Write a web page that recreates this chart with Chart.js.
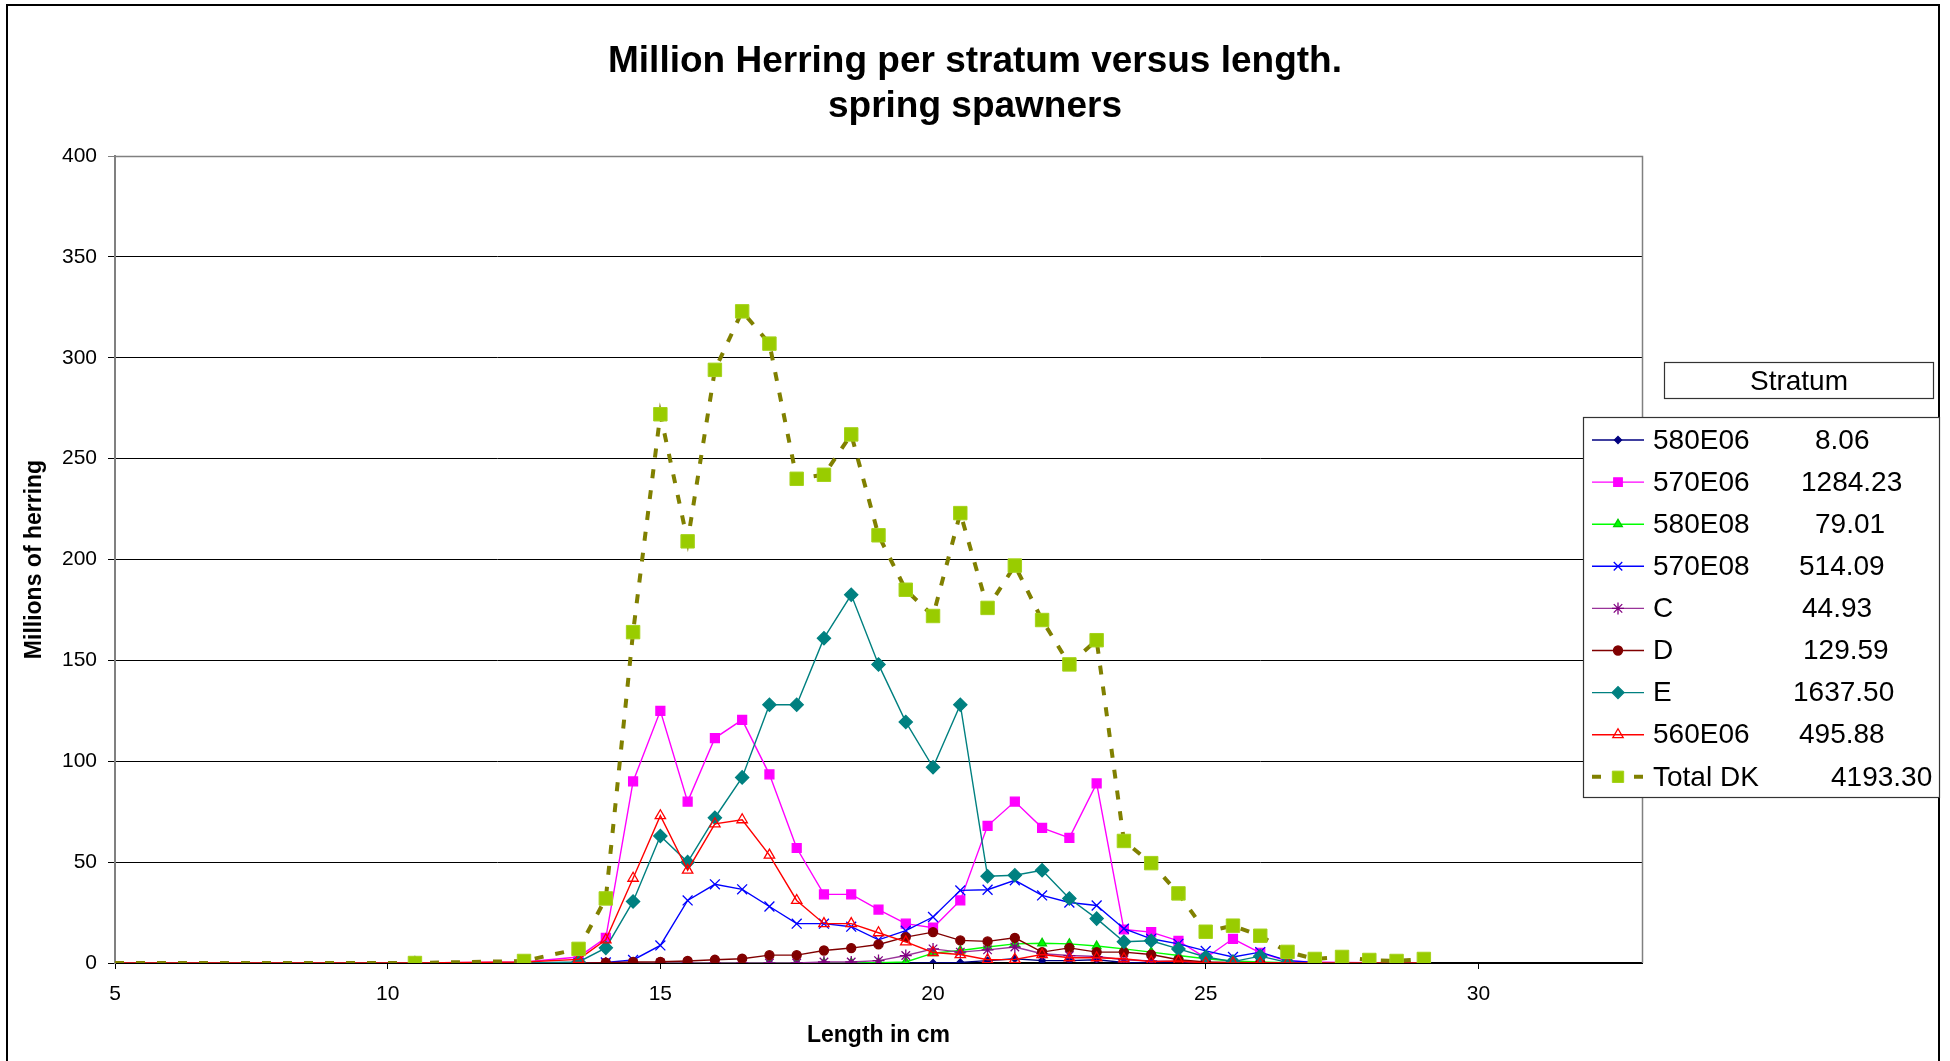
<!DOCTYPE html>
<html>
<head>
<meta charset="utf-8">
<title>Million Herring per stratum versus length</title>
<script src="https://cdn.jsdelivr.net/npm/chart.js@4.4.1/dist/chart.umd.min.js"></script>
<style>
  html, body { margin: 0; padding: 0; background: #ffffff; }
  #wrap { position: relative; width: 1950px; height: 1061px; }
</style>
</head>
<body>
<div id="wrap"><canvas id="c"></canvas></div>
<script>
// Length classes (cm)
const lengths = [5, 10.5, 12.5, 13.5, 14, 14.5, 15, 15.5, 16, 16.5, 17, 17.5, 18, 18.5,
  19, 19.5, 20, 20.5, 21, 21.5, 22, 22.5, 23, 23.5, 24, 24.5, 25, 25.5, 26, 26.5,
  27, 27.5, 28, 28.5, 29];

// Millions of herring per length class, one array per stratum
const s580E06 = [0, 0, 0, 0, 0, 0, 0, 0, 0, 0, 0, 0, 0, 0,
  0, 0, 0, 0.3, 1.2, 2.1, 1.2, 1.2, 1.6, 0.3, 0, 0, 0, 0, 0, 0, 0, 0, 0, 0, 0];
const s570E06 = [0, 0, 0.5, 3, 12.5, 90, 125, 80, 111.5, 120.5, 93.5, 57, 34, 34,
  26.5, 19.5, 17.5, 31, 68, 80, 67, 62, 89, 16.6, 15.3, 11, 2.5, 12, 5, 1, 0.5, 0.3, 0.2, 0, 0];
const s580E08 = [0, 0, 0, 0, 0, 0, 0, 0, 0, 0, 0, 0, 0, 0,
  0.2, 0.5, 4.9, 6.2, 7.9, 9.5, 9.8, 9.5, 8.4, 7, 5.4, 3.7, 2.1, 1, 0.5, 0.2, 0, 0, 0, 0, 0];
const s570E08 = [0, 0, 0, 0, 0.3, 1.5, 8.7, 31, 39, 36.5, 28, 19.5, 19.5, 18,
  11.5, 16, 22.8, 36, 36.3, 41, 33.5, 30, 28.5, 17, 12, 9.5, 6, 3, 5.4, 1.2, 0.3, 0.2, 0.1, 0, 0];
const sC = [0, 0, 0, 0, 0, 0, 0, 0, 0, 0, 0, 0, 0.5, 0.5,
  1.2, 3.7, 7, 5.4, 6.5, 7.9, 4.6, 3.7, 3.2, 1.6, 1, 0.8, 0.3, 0, 0, 0, 0, 0, 0, 0, 0];
const sD = [0, 0, 0, 0, 0.2, 0.5, 0.6, 1, 1.6, 2.1, 3.9, 3.9, 6.2, 7.4,
  9.2, 12.8, 15.3, 11.2, 10.7, 12.5, 5.4, 7.5, 5.4, 5.4, 4.2, 1.6, 0.5, 0.3, 0.2, 0, 0, 0, 0, 0, 0];
const sE = [0, 0, 0, 0.5, 7.5, 30.5, 63, 50, 72, 92, 128, 128, 161, 182.5,
  148, 119.5, 97, 128, 43, 43.5, 46, 32, 22, 10.5, 11, 7, 3, 0.7, 3.4, 0.3, 0, 0, 0, 0, 0];
const s560E06 = [0, 0, 0.5, 1.8, 11.5, 42, 73, 46, 69, 71, 53.5, 31, 19.5, 19.5,
  15, 10.5, 5.2, 4.2, 1.6, 1.8, 4.2, 2.6, 2.6, 2.1, 0.7, 1, 0, 0, 0, 0, 0, 0, 0, 0, 0];
const totalDK = [0, 0, 1, 7, 32, 164, 272, 209, 294, 323, 307, 240, 242, 262,
  212, 185, 172, 223, 176, 197, 170, 148, 160, 60.5, 49.5, 34.5, 15.5, 18.5, 13.5, 5.5, 2, 3, 1.5, 1, 2];

// Legend names and stratum totals
const seriesNames = ['580E06', '570E06', '580E08', '570E08', 'C', 'D', 'E', '560E06', 'Total DK'];
const stratumTotals = ['8.06', '1284.23', '79.01', '514.09', '44.93', '129.59', '1637.50', '495.88', '4193.30'];

// Axis ticks
const xTickValues = [5, 10, 15, 20, 25, 30];
const yTickValues = [0, 50, 100, 150, 200, 250, 300, 350, 400];

const titleLines = ['Million Herring per stratum versus length.', 'spring spawners'];
const legendTitle = 'Stratum';
const xTitle = 'Length in cm';
const yTitle = 'Millions of herring';

const FONT = '"Liberation Sans", Arial, Helvetica, sans-serif';

const seriesValues = [s580E06, s570E06, s580E08, s570E08, sC, sD, sE, s560E06, totalDK];

// Line / marker look of each series
const looks = [
  { line: '#000080', fill: '#000080', edge: '#000080', style: 'rectRot', r: 3.5, w: 1.4 },
  { line: '#ff00ff', fill: '#ff00ff', edge: '#ff00ff', style: 'rect', r: 6.3, w: 1.4 },
  { line: '#00ff00', fill: '#00ff00', edge: '#00cc00', style: 'triangle', r: 5, w: 1.4 },
  { line: '#0000ff', fill: 'rgba(0,0,0,0)', edge: '#0000ff', style: 'crossRot', r: 7, w: 1.4 },
  { line: '#993399', fill: 'rgba(0,0,0,0)', edge: '#800080', style: 'star', r: 6, w: 1.4 },
  { line: '#800000', fill: '#800000', edge: '#800000', style: 'circle', r: 4.5, w: 1.4 },
  { line: '#008080', fill: '#008080', edge: '#008080', style: 'rectRot', r: 6.6, w: 1.4 },
  { line: '#ff0000', fill: 'rgba(255,255,255,0)', edge: '#ff0000', style: 'triangle', r: 6, w: 1.4 },
  { line: '#808000', fill: '#99cc00', edge: '#a4d21a', style: 'rect', r: 9.5, w: 4, dash: [9, 12] }
];

const datasets = seriesNames.map((name, i) => {
  const lk = looks[i];
  return {
    label: name,
    data: seriesValues[i].map((v, k) => ({ x: lengths[k], y: v })),
    showLine: true,
    borderColor: lk.line,
    borderWidth: lk.w,
    borderDash: lk.dash || [],
    backgroundColor: lk.fill,
    pointBackgroundColor: lk.fill,
    pointBorderColor: lk.edge,
    pointBorderWidth: lk.dash ? 1 : 1.3,
    pointStyle: lk.style,
    // the first point only anchors the zero line at the axis origin
    pointRadius: ctx => (ctx.dataIndex === 0 ? 0 : lk.r),
    pointHoverRadius: ctx => (ctx.dataIndex === 0 ? 0 : lk.r),
    tension: 0,
    order: seriesNames.length - 1 - i
  };
});

const PLOT = { left: 115, top: 156, right: 1642, bottom: 963 };

const decorations = {
  id: 'decorations',
  beforeDraw(chart) {
    const ctx = chart.ctx;
    ctx.save();
    ctx.fillStyle = '#ffffff';
    ctx.fillRect(0, 0, chart.width, chart.height);
    ctx.restore();
  },
  afterDraw(chart) {
    const ctx = chart.ctx;
    const a = chart.chartArea;
    ctx.save();

    // plot frame, top and right
    ctx.strokeStyle = '#808080';
    ctx.lineWidth = 1.5;
    ctx.beginPath();
    ctx.moveTo(a.left, a.top + 0.5);
    ctx.lineTo(a.right + 0.5, a.top + 0.5);
    ctx.lineTo(a.right + 0.5, a.bottom);
    ctx.stroke();

    // outer frame
    ctx.strokeStyle = '#000000';
    ctx.lineWidth = 2;
    ctx.strokeRect(7, 5, 1932, 1100);

    // title
    ctx.fillStyle = '#000000';
    ctx.font = 'bold 37px ' + FONT;
    ctx.textAlign = 'center';
    ctx.textBaseline = 'middle';
    ctx.fillText(titleLines[0], 975, 62);
    ctx.fillText(titleLines[1], 975, 107);

    // legend title box
    ctx.fillStyle = '#ffffff';
    ctx.fillRect(1664, 362, 269, 36);
    ctx.strokeStyle = '#333333';
    ctx.lineWidth = 1.2;
    ctx.strokeRect(1664.5, 362.5, 269, 36);
    ctx.fillStyle = '#000000';
    ctx.font = '28px ' + FONT;
    ctx.textAlign = 'center';
    ctx.fillText(legendTitle, 1799, 382);

    // legend box
    ctx.fillStyle = '#ffffff';
    ctx.fillRect(1583, 417, 356, 380);
    ctx.strokeStyle = '#333333';
    ctx.strokeRect(1583.5, 417.5, 356, 380);

    const valueLeft = [1815, 1801, 1815, 1799, 1802, 1803, 1793, 1799, 1831];
    const rowY0 = 440, rowStep = 42.1;
    datasets.forEach((ds, i) => {
      const y = rowY0 + i * rowStep;
      const lk = looks[i];
      ctx.save();
      ctx.strokeStyle = lk.line;
      ctx.lineWidth = lk.w;
      ctx.setLineDash(lk.dash || []);
      ctx.beginPath();
      ctx.moveTo(1592, y);
      ctx.lineTo(1644, y);
      ctx.stroke();
      ctx.setLineDash([]);
      ctx.fillStyle = lk.fill;
      ctx.strokeStyle = lk.edge;
      ctx.lineWidth = lk.dash ? 1 : 1.3;
      Chart.helpers.drawPoint(ctx, { pointStyle: lk.style, radius: lk.dash ? 8 : Math.min(lk.r, 6), rotation: 0, borderWidth: ctx.lineWidth }, 1618, y);
      ctx.restore();

      ctx.fillStyle = '#000000';
      ctx.font = '28px ' + FONT;
      ctx.textAlign = 'left';
      ctx.textBaseline = 'middle';
      ctx.fillText(seriesNames[i], 1653, y + 1);
      ctx.fillText(stratumTotals[i], valueLeft[i], y + 1);
    });

    ctx.restore();
  }
};

new Chart(document.getElementById('c'), {
  type: 'scatter',
  data: { datasets },
  plugins: [decorations],
  options: {
    responsive: true,
    maintainAspectRatio: false,
    animation: false,
    events: [],
    layout: { padding: { top: PLOT.top, left: 0, right: 1950 - PLOT.right, bottom: 0 } },
    plugins: {
      legend: { display: false },
      tooltip: { enabled: false },
      title: { display: false }
    },
    scales: {
      x: {
        type: 'linear',
        min: 5,
        max: 33,
        afterBuildTicks: s => { s.ticks = xTickValues.map(v => ({ value: v })); },
        afterFit: s => { s.height = 1061 - PLOT.bottom; },
        grid: { drawOnChartArea: false, drawTicks: true, tickLength: 6, color: '#000000', lineWidth: 1 },
        border: { display: true, color: '#000000', width: 2 },
        ticks: { color: '#000000', font: { family: FONT, size: 21 }, padding: 13, maxRotation: 0, autoSkip: false },
        title: { display: true, text: xTitle, color: '#000000', font: { family: FONT, size: 23, weight: 'bold' }, padding: { top: 0, bottom: 12 } }
      },
      y: {
        type: 'linear',
        min: 0,
        max: 400,
        afterBuildTicks: s => { s.ticks = yTickValues.map(v => ({ value: v })); },
        afterFit: s => { s.width = PLOT.left; },
        grid: {
          drawTicks: true,
          tickLength: 7,
          color: c => (c.tick && c.tick.value === 400 ? '#808080' : '#000000'),
          lineWidth: 1
        },
        border: { display: true, color: '#808080', width: 2 },
        ticks: { color: '#000000', font: { family: FONT, size: 21 }, padding: 11, autoSkip: false },
        title: { display: true, text: yTitle, color: '#000000', font: { family: FONT, size: 23, weight: 'bold' }, padding: { top: 21, bottom: 0 } }
      }
    }
  }
});
</script>
</body>
</html>
